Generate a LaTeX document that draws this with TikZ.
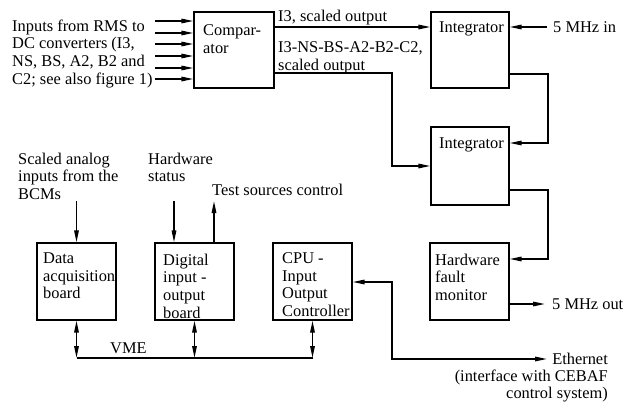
\documentclass[tikz,border=0pt]{standalone}
\usepackage{fontspec}
\setmainfont{Liberation Serif}
\usetikzlibrary{arrows.meta}
\begin{document}
\begin{tikzpicture}[x=1pt,y=-1pt,
  box/.style={draw,line width=1.2pt,inner sep=0pt,minimum width=79pt,minimum height=77pt},
  txt/.style={inner sep=0pt,anchor=north west,align=left,font=\fontsize{16.4}{17.7}\selectfont},
  rtxt/.style={inner sep=0pt,anchor=north east,align=right,font=\fontsize{16.4}{17.2}\selectfont},
  conn/.style={line width=1.5pt},
  arr/.style={conn,-{Triangle[length=12pt,width=4.5pt]}},
  darr/.style={conn,{Triangle[length=12pt,width=4.5pt]}-{Triangle[length=12pt,width=4.5pt]}},
  bus/.style={line width=2.5pt}]
\useasboundingbox (0,0) rectangle (626,402);
% boxes
\node[box,minimum width=80pt,minimum height=76pt] (comp) at (234,50) {};
\node[box,minimum width=78pt,minimum height=76pt] (int1) at (470,50) {};
\node[box,minimum width=78pt,minimum height=78pt] (int2) at (470,166) {};
\node[box] (hfm) at (469.5,281.5) {};
\node[box] (cpu) at (312.5,281.5) {};
\node[box] (daq) at (76.5,281.5) {};
\node[box] (dio) at (194.5,281.5) {};
% box texts
\node[txt] (tcomp) at (203,24.5) {Compar-\\ator};
\node[txt] (tint1) at (439,21.5) {Integrator};
\node[txt] (tint2) at (439,137.5) {Integrator};
\node[txt] (thfm) at (435,253.5) {Hardware\\fault\\monitor};
\node[txt] (tcpu) at (282,252.5) {CPU -\\Input\\Output\\Controller};
\node[txt] (tdaq) at (43,252.5) {Data\\acquisition\\board};
\node[txt] (tdio) at (163,253.5) {Digital\\input -\\output\\board};
% free labels
\node[txt] (lin) at (12,19.5) {Inputs from RMS to\\DC converters (I3,\\NS, BS, A2, B2 and\\C2; see also figure 1)};
\node[txt] (lo1) at (278,9.5) {I3, scaled output};
\node[txt] (lo2) at (278,41.5) {I3-NS-BS-A2-B2-C2,\\scaled output};
\node[txt] (l5in) at (553,21.5) {5 MHz in};
\node[txt] (l5out) at (552,298.5) {5 MHz out};
\node[txt] (lsc) at (18,152.5) {Scaled analog\\inputs from the\\BCMs};
\node[txt] (lhw) at (148,152.5) {Hardware\\status};
\node[txt] (lts) at (212,183.5) {Test sources control};
\node[txt] (lvme) at (110,342.5) {VME};
\node[rtxt] (leth) at (608,353) {Ethernet\\(interface with CEBAF\\control system)};
% coordinates
\foreach \i/\y in {1/21,2/33,3/44,4/56,5/68,6/79}{
  \coordinate (in\i) at (155,\y);
  \draw[arr] (in\i) -- (in\i -| comp.west);
}
\coordinate (o1) at (274,27);
\draw[arr] (o1) -- (o1 -| int1.west);
\coordinate (o2) at (274,73);
\coordinate (o2b) at (392,73);
\draw[arr] (o2) -- (o2b) -- (o2b |- int2.west) -- (int2.west);
\coordinate (f5in) at (547,27);
\draw[arr] (f5in) -- (f5in -| int1.east);
\coordinate (a1) at (509,74);
\coordinate (a2) at (548,74);
\coordinate (a3) at (548,143);
\draw[arr] (a1) -- (a2) -- (a3) -- (a3 -| int2.east);
\coordinate (b1) at (509,190);
\coordinate (b2) at (548,190);
\coordinate (b3) at (548,259);
\draw[arr] (b1) -- (b2) -- (b3) -- (b3 -| hfm.east);
\coordinate (c1) at (509,304);
\coordinate (f5out) at (545,304);
\draw[arr] (c1) -- (f5out);
\coordinate (e1) at (392,282);
\coordinate (e2) at (392,359);
\coordinate (feth) at (547,359);
\draw[darr] (e1 -| cpu.east) -- (e1) -- (e2) -- (feth);
\coordinate (d1) at (76.5,201);
\draw[arr] (d1) -- (daq.north);
\coordinate (d2) at (174,201);
\draw[arr] (d2) -- (d2 |- dio.north);
\coordinate (d3) at (214,201);
\draw[arr] (d3 |- dio.north) -- (d3);
% bus
\coordinate (busL) at (76.5,358);
\coordinate (busR) at (312.5,358);
\draw[bus] (busL) -- (busR);
\draw[darr] (daq.south) -- (daq.south |- busL);
\draw[darr] (dio.south) -- (dio.south |- busL);
\draw[darr] (cpu.south) -- (cpu.south |- busL);
\end{tikzpicture}
\end{document}
